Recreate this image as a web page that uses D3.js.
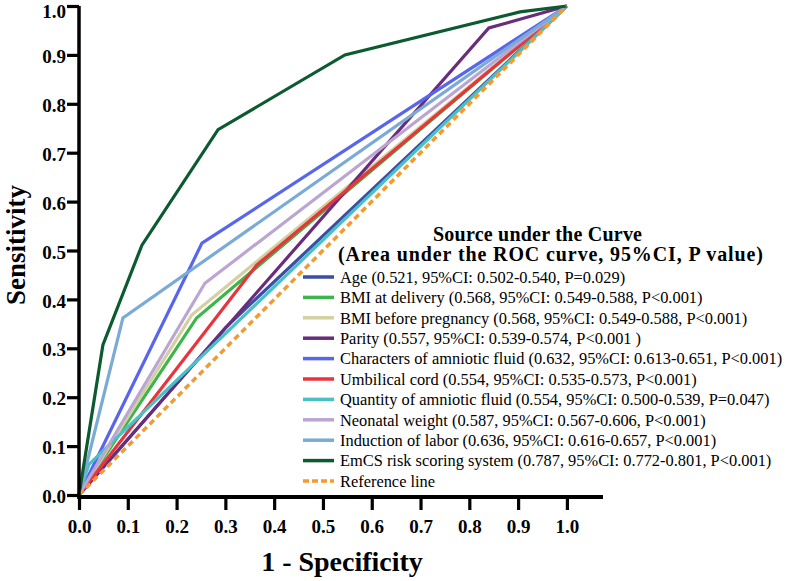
<!DOCTYPE html>
<html><head><meta charset="utf-8">
<script src="https://cdn.jsdelivr.net/npm/d3@7"></script>
<style>html,body{margin:0;padding:0;background:#fff;} svg{display:block;}</style>
</head><body>
<svg id="chart" width="789" height="581"></svg>
<script>
const seriesNames = ["Age","BMI at delivery","BMI before pregnancy","Parity","Characters of amniotic fluid","Umbilical cord","Quantity of amniotic fluid","Neonatal weight","Induction of labor","EmCS risk scoring system"];
const seriesLabels = [
 "Age (0.521, 95%CI: 0.502-0.540, P=0.029)",
 "BMI at delivery (0.568, 95%CI: 0.549-0.588, P<0.001)",
 "BMI before pregnancy (0.568, 95%CI: 0.549-0.588, P<0.001)",
 "Parity (0.557, 95%CI: 0.539-0.574, P<0.001 )",
 "Characters of amniotic fluid (0.632, 95%CI: 0.613-0.651, P<0.001)",
 "Umbilical cord (0.554, 95%CI: 0.535-0.573, P<0.001)",
 "Quantity of amniotic fluid (0.554, 95%CI: 0.500-0.539, P=0.047)",
 "Neonatal weight (0.587, 95%CI: 0.567-0.606, P<0.001)",
 "Induction of labor (0.636, 95%CI: 0.616-0.657, P<0.001)",
 "EmCS risk scoring system (0.787, 95%CI: 0.772-0.801, P<0.001)"
];
const seriesColors = ["#3b4ea3","#3db54a","#d3d0a2","#6a2c7c","#5866ee","#e8353d","#47c1c6","#baa5d3","#7aaad6","#0c5a30"];
// 1 - specificity (fpr) and sensitivity (tpr) per series
const fprAge = [0, 0.30, 1];
const tprAge = [0, 0.342, 1];
const fprBmiDelivery = [0, 0.241, 1];
const tprBmiDelivery = [0, 0.362, 1];
const fprBmiBefore = [0, 0.231, 1];
const tprBmiBefore = [0, 0.368, 1];
const fprParity = [0, 0.84, 1];
const tprParity = [0, 0.955, 1];
const fprCharacters = [0, 0.252, 1];
const tprCharacters = [0, 0.515, 1];
const fprUmbilical = [0, 0.364, 1];
const tprUmbilical = [0, 0.470, 1];
const fprQuantity = [0, 0.02, 1];
const tprQuantity = [0, 0.062, 1];
const fprNeonatal = [0, 0.258, 1];
const tprNeonatal = [0, 0.433, 1];
const fprInduction = [0, 0.09, 1];
const tprInduction = [0, 0.362, 1];
const fprEmCS = [0, 0.049, 0.129, 0.285, 0.545, 0.904, 1];
const tprEmCS = [0, 0.307, 0.511, 0.747, 0.900, 0.988, 1];
const refFpr = [0, 1];
const refTpr = [0, 1];
const refLabel = "Reference line";
const refColor = "#f59a2e";
const tickValues = [0,0.1,0.2,0.3,0.4,0.5,0.6,0.7,0.8,0.9,1.0];
const legendTitle1 = "Source under the Curve";
const legendTitle2 = "(Area under the ROC curve, 95%CI, P value)";
const xTitle = "1 - Specificity";
const yTitle = "Sensitivity";

const fprs = [fprAge,fprBmiDelivery,fprBmiBefore,fprParity,fprCharacters,fprUmbilical,fprQuantity,fprNeonatal,fprInduction,fprEmCS];
const tprs = [tprAge,tprBmiDelivery,tprBmiBefore,tprParity,tprCharacters,tprUmbilical,tprQuantity,tprNeonatal,tprInduction,tprEmCS];

const svg = d3.select("#chart");
const serif = "'Liberation Serif','Times New Roman',serif";
const x = d3.scaleLinear().domain([0, 1.074]).range([79, 603]);
const y = d3.scaleLinear().domain([0, 1]).range([495, 6]);
const line = d3.line().x(d => x(d[0])).y(d => y(d[1]));

// curves
const g = svg.append("g");
seriesNames.forEach((n, i) => {
  const pts = fprs[i].map((f, j) => [f, tprs[i][j]]);
  g.append("path").attr("d", line(pts)).attr("fill","none")
    .attr("stroke", seriesColors[i]).attr("stroke-width", 3.2)
    .attr("stroke-linejoin","miter");
});
g.append("path").attr("d", line(refFpr.map((f,j)=>[f, refTpr[j]]))).attr("fill","none")
  .attr("stroke", refColor).attr("stroke-width", 3.5).attr("stroke-dasharray","6,4");

// axes
const fmt = d3.format(".1f");
const xAxis = svg.append("g").attr("transform","translate(0,497)")
  .call(d3.axisBottom(x).tickValues(tickValues).tickFormat(fmt).tickSize(13).tickSizeOuter(0));
const yAxis = svg.append("g").attr("transform","translate(79,0)")
  .call(d3.axisLeft(y).tickValues(tickValues).tickFormat(fmt).tickSize(12).tickSizeOuter(0));
[xAxis, yAxis].forEach(a => {
  a.select(".domain").remove();
  a.selectAll(".tick line").attr("stroke","#000").attr("stroke-width",3.2);
  a.selectAll(".tick text").attr("font-family", serif).attr("font-weight","bold")
    .attr("font-size", 19).attr("fill","#000");
});
xAxis.selectAll(".tick text").attr("dy", null).attr("y", 36);
yAxis.selectAll(".tick text").attr("x", -13).attr("dy","0.4em");
yAxis.selectAll(".tick text").filter(d => d === 1).attr("dy","0.62em");
svg.append("line").attr("x1", x(0)-1.5).attr("x2", x(1.074)).attr("y1", 497).attr("y2", 497)
  .attr("stroke","#000").attr("stroke-width",4);
svg.append("line").attr("x1", 79).attr("x2", 79).attr("y1", y(1)).attr("y2", 499)
  .attr("stroke","#000").attr("stroke-width",3.5);

// axis titles
svg.append("text").attr("x", 342).attr("y", 571).attr("text-anchor","middle")
  .attr("font-family", serif).attr("font-weight","bold").attr("font-size", 28).text(xTitle);
svg.append("text").attr("transform","translate(25,245) rotate(-90)").attr("text-anchor","middle")
  .attr("font-family", serif).attr("font-weight","bold").attr("font-size", 27).text(yTitle);

// legend
svg.append("text").attr("x", 433).attr("y", 241)
  .attr("textLength", 209).attr("lengthAdjust","spacing")
  .attr("font-family", serif).attr("font-weight","bold").attr("font-size", 20).text(legendTitle1);
svg.append("text").attr("x", 338).attr("y", 261)
  .attr("textLength", 425).attr("lengthAdjust","spacing")
  .attr("font-family", serif).attr("font-weight","bold").attr("font-size", 20).text(legendTitle2);
const leg = svg.append("g");
const allLabels = seriesLabels.concat([refLabel]);
const allColors = seriesColors.concat([refColor]);
allLabels.forEach((lab, i) => {
  const yy = 277 + i * 20.4;
  const l = leg.append("line").attr("x1", 303).attr("x2", 334).attr("y1", yy).attr("y2", yy)
    .attr("stroke", allColors[i]).attr("stroke-width", 3.5);
  if (i === allLabels.length - 1) l.attr("stroke-dasharray","6,3");
  leg.append("text").attr("x", 340).attr("y", yy).attr("dy","0.35em")
    .attr("font-family", serif).attr("font-size", 16.4).attr("fill","#000").text(lab);
});
</script>
</body></html>
